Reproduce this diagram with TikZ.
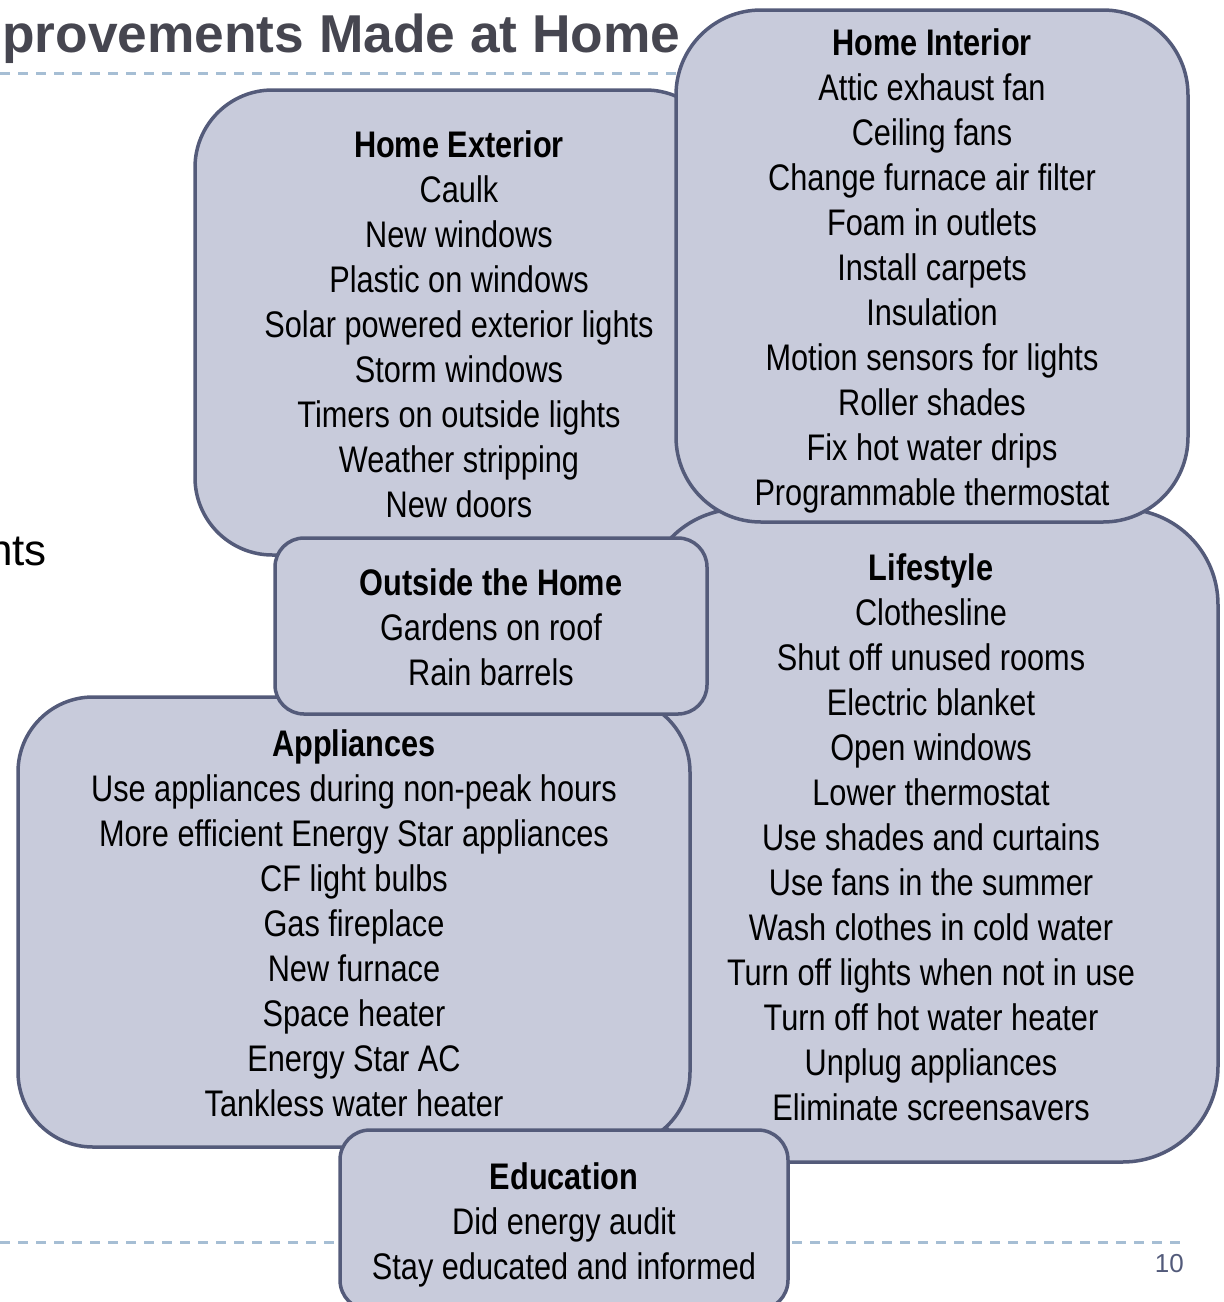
\documentclass[tikz,border=0pt]{standalone}
\usepackage{fontspec}
\setmainfont{Liberation Sans}
\newfontfamily\narrowfont[FakeStretch=0.83]{Liberation Sans}
\definecolor{boxfill}{RGB}{200,203,219}
\definecolor{boxline}{RGB}{84,91,122}
\definecolor{dashcol}{RGB}{166,190,212}
\definecolor{titlecol}{RGB}{70,70,80}
\definecolor{numcol}{RGB}{82,90,122}
\newcommand\ls{\rule[-8pt]{0pt}{45pt}}
\begin{document}
\begin{tikzpicture}[x=1pt,y=-1pt,
  panel/.style={draw=boxline, fill=boxfill, line width=3.5pt, inner sep=0pt,
    align=center, font=\narrowfont\fontsize{37}{45}\selectfont},
  sepline/.style={dash pattern=on 10pt off 8pt, line width=3pt, draw=dashcol}]
\useasboundingbox (0,0) rectangle (1224,1302);
\clip (0,0) rectangle (1224,1302);
% separator lines
\coordinate (t1) at (0,73);
\coordinate (t2) at (1187,73);
\coordinate (b1) at (0,1242);
\coordinate (b2) at (1187,1242);
\draw[sepline] (t1) -- (t2);
\draw[sepline] (b1) -- (b2);
% title and stray texts
\node[anchor=base west, inner sep=0pt, text=titlecol,
  font=\bfseries\fontsize{53.3}{60}\selectfont] (title) at (2,52) {provements Made at Home};
\node[anchor=base east, inner sep=0pt, font=\fontsize{44}{50}\selectfont] (nts) at (47,565) {nts};
\node[anchor=base east, inner sep=0pt, text=numcol, font=\fontsize{26}{30}\selectfont] (pg) at (1184,1272) {10};
% panels
\node[panel, minimum width=528pt, minimum height=465pt, rounded corners=77.5pt] (ext) at (459,322.5)
 {\textbf{Home Exterior}\ls\\ Caulk\ls\\ New windows\ls\\ Plastic on windows\ls\\ Solar powered exterior lights\ls\\ Storm windows\ls\\ Timers on outside lights\ls\\ Weather stripping\ls\\ New doors\ls};
\node[panel, minimum width=574pt, minimum height=653pt, rounded corners=95.5pt] (life) at (931,835.5)
 {\textbf{Lifestyle}\ls\\ Clothesline\ls\\ Shut off unused rooms\ls\\ Electric blanket\ls\\ Open windows\ls\\ Lower thermostat\ls\\ Use shades and curtains\ls\\ Use fans in the summer\ls\\ Wash clothes in cold water\ls\\ Turn off lights when not in use\ls\\ Turn off hot water heater\ls\\ Unplug appliances\ls\\ Eliminate screensavers\ls};
\node[panel, minimum width=512pt, minimum height=512pt, rounded corners=85pt] (int) at (932,266)
 {\textbf{Home Interior}\ls\\ Attic exhaust fan\ls\\ Ceiling fans\ls\\ Change furnace air filter\ls\\ Foam in outlets\ls\\ Install carpets\ls\\ Insulation\ls\\ Motion sensors for lights\ls\\ Roller shades\ls\\ Fix hot water drips\ls\\ Programmable thermostat\ls};
\node[panel, minimum width=672pt, minimum height=450pt, rounded corners=75pt] (app) at (354,922)
 {\textbf{Appliances}\ls\\ Use appliances during non-peak hours\ls\\ More efficient Energy Star appliances\ls\\ CF light bulbs\ls\\ Gas fireplace\ls\\ New furnace\ls\\ Space heater\ls\\ Energy Star AC\ls\\ Tankless water heater\ls};
\node[panel, minimum width=432pt, minimum height=176pt, rounded corners=29pt] (out) at (491,626)
 {\textbf{Outside the Home}\ls\\ Gardens on roof\ls\\ Rain barrels\ls};
\node[panel, minimum width=448pt, minimum height=180pt, rounded corners=30pt] (edu) at (564,1220)
 {\textbf{Education}\ls\\ Did energy audit\ls\\ Stay educated and informed\ls};
\end{tikzpicture}
\end{document}
